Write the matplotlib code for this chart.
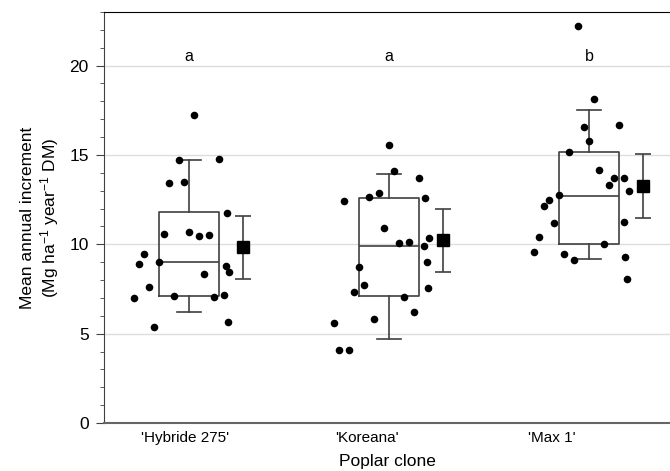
import matplotlib
matplotlib.use("Agg")
import matplotlib.pyplot as plt
from matplotlib.ticker import MultipleLocator

plt.rcParams['font.family'] = ['Liberation Sans', 'DejaVu Sans']
plt.rcParams['mathtext.fontset'] = 'custom'
plt.rcParams['mathtext.rm'] = 'Liberation Sans'
plt.rcParams['mathtext.it'] = 'Liberation Sans'
plt.rcParams['mathtext.default'] = 'regular'

clones = ["'Hybride 275'", "'Koreana'", "'Max 1'"]
letters = ["a", "a", "b"]

hyb_vals = [17.26, 14.72, 14.80, 13.45, 13.49, 11.75, 10.58, 10.71, 10.48, 10.50,
            9.45, 8.89, 9.01, 8.78, 8.46, 8.35, 7.62, 7.02, 7.10, 7.05, 7.14, 5.68, 5.36]
hyb_jit = [0.024, -0.052, 0.149, -0.102, -0.027, 0.189, -0.127, -0.002, 0.049, 0.099,
           -0.227, -0.25, -0.152, 0.185, 0.199, 0.074, -0.202, -0.277, -0.077, 0.124, 0.174, 0.194, -0.177]

kor_vals = [15.54, 14.13, 13.72, 12.44, 12.65, 12.87, 12.59, 10.91, 10.05, 10.15,
            10.33, 9.90, 8.73, 9.02, 7.70, 7.34, 7.53, 7.06, 6.22, 5.83, 5.59, 4.11, 4.11]
kor_jit = [0.0, 0.024, 0.149, -0.227, -0.102, -0.052, 0.182, -0.027, 0.049, 0.099,
           0.199, 0.174, -0.152, 0.189, -0.127, -0.177, 0.194, 0.074, 0.124, -0.077, -0.277, -0.252, -0.202]

max_vals = [22.20, 18.11, 16.59, 16.67, 15.77, 15.17, 14.18, 13.72, 13.73, 13.32,
            12.97, 12.76, 12.50, 12.12, 11.19, 11.27, 10.39, 9.59, 9.47, 9.10, 10.02, 9.27, 8.07]
max_jit = [-0.054, 0.024, -0.027, 0.149, 0.0, -0.102, 0.049, 0.124, 0.177, 0.099,
           0.199, -0.152, -0.202, -0.227, -0.177, 0.174, -0.252, -0.277, -0.127, -0.077, 0.074, 0.182, 0.189]

# box statistics
q1 = [7.12, 7.08, 10.02]
median = [8.99, 9.88, 12.72]
q3 = [11.78, 12.59, 15.17]
whislo = [6.22, 4.69, 9.18]
whishi = [14.74, 13.96, 17.53]

means = [9.83, 10.22, 13.27]
err_lo = [8.05, 8.43, 11.47]
err_hi = [11.60, 12.00, 15.06]

all_vals = [hyb_vals, kor_vals, max_vals]
all_jit = [hyb_jit, kor_jit, max_jit]

fig = plt.figure(figsize=(6.7, 4.71), dpi=100)
ax = fig.add_axes([104 / 670, 48 / 471, 1 - 104 / 670, (423 - 12) / 471])

line_c = '#404040'
stats = []
for i in range(3):
    stats.append(dict(med=median[i], q1=q1[i], q3=q3[i], whislo=whislo[i], whishi=whishi[i], fliers=[]))
ax.bxp(stats, positions=[0, 1, 2], widths=0.3, showfliers=False,
       boxprops=dict(color=line_c, linewidth=1.2),
       medianprops=dict(color=line_c, linewidth=1.2),
       whiskerprops=dict(color=line_c, linewidth=1.2),
       capprops=dict(color=line_c, linewidth=1.2), capwidths=0.12, zorder=2)

for i in range(3):
    xs = [i + j for j in all_jit[i]]
    ax.scatter(xs, all_vals[i], s=30, color='black', zorder=3, linewidths=0)
    yerr = [[means[i] - err_lo[i]], [err_hi[i] - means[i]]]
    ax.errorbar([i + 0.27], [means[i]], yerr=yerr, fmt='s', color='black', ecolor=line_c,
                markersize=8, capsize=6, elinewidth=1.2, capthick=1.2, zorder=3)
    ax.text(i, 20.5, letters[i], ha='center', va='center', fontsize=11.5)

ax.set_xlim(-0.425, 2.405)
ax.set_ylim(0, 23)
ax.yaxis.set_major_locator(MultipleLocator(5))
ax.yaxis.set_minor_locator(MultipleLocator(1))
ax.set_yticks([0, 5, 10, 15, 20])
ax.grid(axis='y', which='major', color='#dddddd', linewidth=1, zorder=0)
ax.set_axisbelow(True)

ax.set_xticks([-0.02, 0.89, 1.815])
ax.set_xticklabels(clones, fontsize=11)
ax.tick_params(axis='x', length=0, pad=6)
ax.tick_params(axis='y', which='major', length=6, direction='out', labelsize=12.5, color=line_c, pad=5)
ax.tick_params(axis='y', which='minor', length=3, direction='out', color=line_c)

ax.spines['right'].set_visible(False)
ax.spines['top'].set_color('black')
ax.spines['left'].set_color(line_c)
ax.spines['bottom'].set_color('#666666')
ax.spines['bottom'].set_linewidth(1.5)

ax.set_ylabel('Mean annual increment\n(Mg ha$^{-1}$ year$^{-1}$ DM)', fontsize=12.5, labelpad=6)
ax.set_xlabel('Poplar clone', fontsize=12.5, labelpad=6)

fig.savefig('out.png', dpi=100)
